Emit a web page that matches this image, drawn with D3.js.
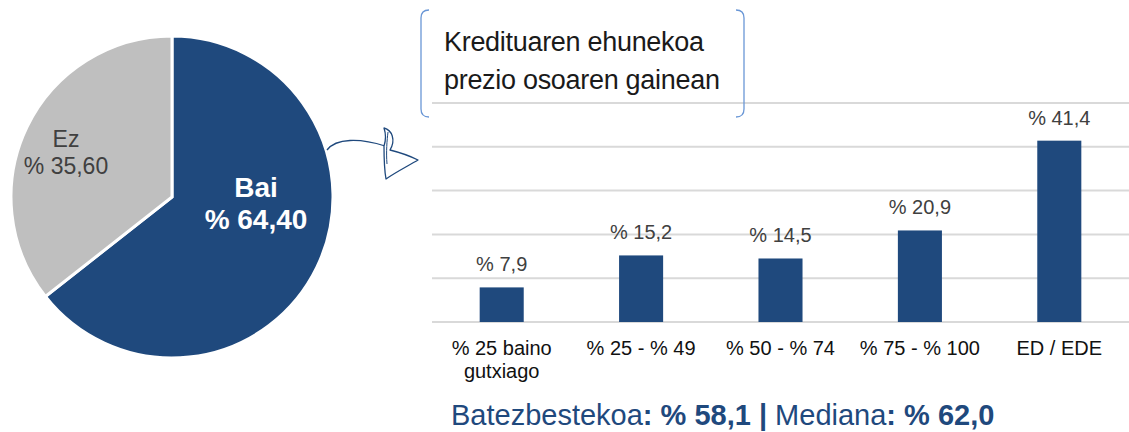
<!DOCTYPE html>
<html lang="eu">
<head>
<meta charset="UTF-8">
<title>Kreditua</title>
<script src="https://d3js.org/d3.v7.min.js"></script>
<style>
    body { margin: 0; background: #fff; }
    svg { display: block; font-family: "Liberation Sans", Arial, sans-serif; }
</style>
</head>
<body>
<svg width="1129" height="432"></svg>
<script>
    // pie data
    const pieLabels = ["Bai", "Ez"];
    const pieValues = [64.4, 35.6];
    const pieText = ["% 64,40", "% 35,60"];

    // bar data
    const categories = [["% 25 baino", "gutxiago"], ["% 25 - % 49"], ["% 50 - % 74"], ["% 75 - % 100"], ["ED / EDE"]];
    const barValues = [7.9, 15.2, 14.5, 20.9, 41.4];
    const barText = ["% 7,9", "% 15,2", "% 14,5", "% 20,9", "% 41,4"];
    const yTicks = [0, 10, 20, 30, 40, 50];

    const titleLines = ["Kredituaren ehunekoa", "prezio osoaren gainean"];

    const blue = "#1f497d";
    const svg = d3.select("svg");

    // ---- pie ----
    const pieG = svg.append("g").attr("transform", "translate(172,197)");
    const pie = d3.pie().sort(null).value(d => d)(pieValues);
    const arc = d3.arc().innerRadius(0).outerRadius(161);

    pieG.selectAll("path")
        .data(pie)
        .join("path")
        .attr("d", arc)
        .attr("fill", (d, i) => i === 0 ? blue : "#bfbfbf")
        .attr("stroke", "#fff")
        .attr("stroke-width", 3);

    // label offsets from pie centre
    const pieLabelPos = [[84, 0], [-106, -50]];
    pieLabels.forEach((lab, i) => {
        const t = pieG.append("text")
            .attr("text-anchor", "middle")
            .attr("x", pieLabelPos[i][0])
            .attr("y", pieLabelPos[i][1])
            .attr("fill", i === 0 ? "#fff" : "#404040")
            .attr("font-size", i === 0 ? 28 : 23)
            .attr("font-weight", i === 0 ? "bold" : "normal");
        t.append("tspan").attr("x", pieLabelPos[i][0]).text(lab);
        t.append("tspan").attr("x", pieLabelPos[i][0]).attr("dy", i === 0 ? 32 : 27).text(pieText[i]);
    });

    // ---- bars ----
    const x = d3.scaleBand().domain(d3.range(categories.length)).range([432, 1129]).paddingInner(0.684).paddingOuter(0.342);
    const y = d3.scaleLinear().domain([0, 50]).range([322, 103]);

    svg.append("g").selectAll("line")
        .data(yTicks)
        .join("line")
        .attr("x1", 432).attr("x2", 1129)
        .attr("y1", d => y(d)).attr("y2", d => y(d))
        .attr("stroke", "#d9d9d9")
        .attr("stroke-width", 2);

    svg.append("g").selectAll("rect")
        .data(barValues)
        .join("rect")
        .attr("x", (d, i) => x(i))
        .attr("width", x.bandwidth())
        .attr("y", d => y(d))
        .attr("height", d => y(0) - y(d))
        .attr("fill", blue);

    svg.append("g").selectAll("text")
        .data(barValues)
        .join("text")
        .attr("x", (d, i) => x(i) + x.bandwidth() / 2)
        .attr("y", d => y(d) - 16)
        .attr("text-anchor", "middle")
        .attr("font-size", 20)
        .attr("fill", "#404040")
        .text((d, i) => barText[i]);

    const catG = svg.append("g");
    categories.forEach((lines, i) => {
        const t = catG.append("text")
            .attr("text-anchor", "middle")
            .attr("y", 355)
            .attr("font-size", 20)
            .attr("fill", "#111");
        lines.forEach((l, j) => {
            t.append("tspan")
                .attr("x", x(i) + x.bandwidth() / 2)
                .attr("dy", j === 0 ? 0 : 23)
                .text(l);
        });
    });

    // ---- title box ----
    const bracket = "#6a97d6";
    svg.append("path")
        .attr("d", "M429,10 Q421,10 421,18 L421,109 Q421,117 429,117")
        .attr("fill", "none").attr("stroke", bracket).attr("stroke-width", 1.3);
    svg.append("path")
        .attr("d", "M736,10 Q744,10 744,18 L744,109 Q744,117 736,117")
        .attr("fill", "none").attr("stroke", bracket).attr("stroke-width", 1.3);

    svg.append("g").selectAll("text")
        .data(titleLines)
        .join("text")
        .attr("x", 444)
        .attr("y", (d, i) => 51 + i * 38)
        .attr("font-size", 27)
        .attr("letter-spacing", -0.3)
        .attr("fill", "#1a1a1a")
        .text(d => d);

    // ---- arrow ----
    svg.append("path")
        .attr("d", "M327,150 C336,138 360,138 385,146")
        .attr("fill", "none").attr("stroke", blue).attr("stroke-width", 1.3);
    svg.append("path")
        .attr("d", "M384,128 C392,130 396,140 390,150 C398,152 410,156 418,160 C408,166 396,172 386,179 C384,168 384,158 384,146 C386,140 386,134 384,128 Z")
        .attr("fill", "#fff").attr("stroke", blue).attr("stroke-width", 1.3).attr("stroke-linejoin", "round");
    svg.append("path")
        .attr("d", "M388,132 C387,140 386,152 387,164")
        .attr("fill", "none").attr("stroke", blue).attr("stroke-width", 1);

    // ---- summary ----
    const sum = svg.append("text")
        .attr("x", 451)
        .attr("y", 425)
        .attr("font-size", 29)
        .attr("fill", blue);
    sum.append("tspan").text("Batezbestekoa");
    sum.append("tspan").attr("font-weight", "bold").text(": % 58,1 | ");
    sum.append("tspan").text("Mediana");
    sum.append("tspan").attr("font-weight", "bold").text(": % 62,0");
</script>
</body>
</html>
